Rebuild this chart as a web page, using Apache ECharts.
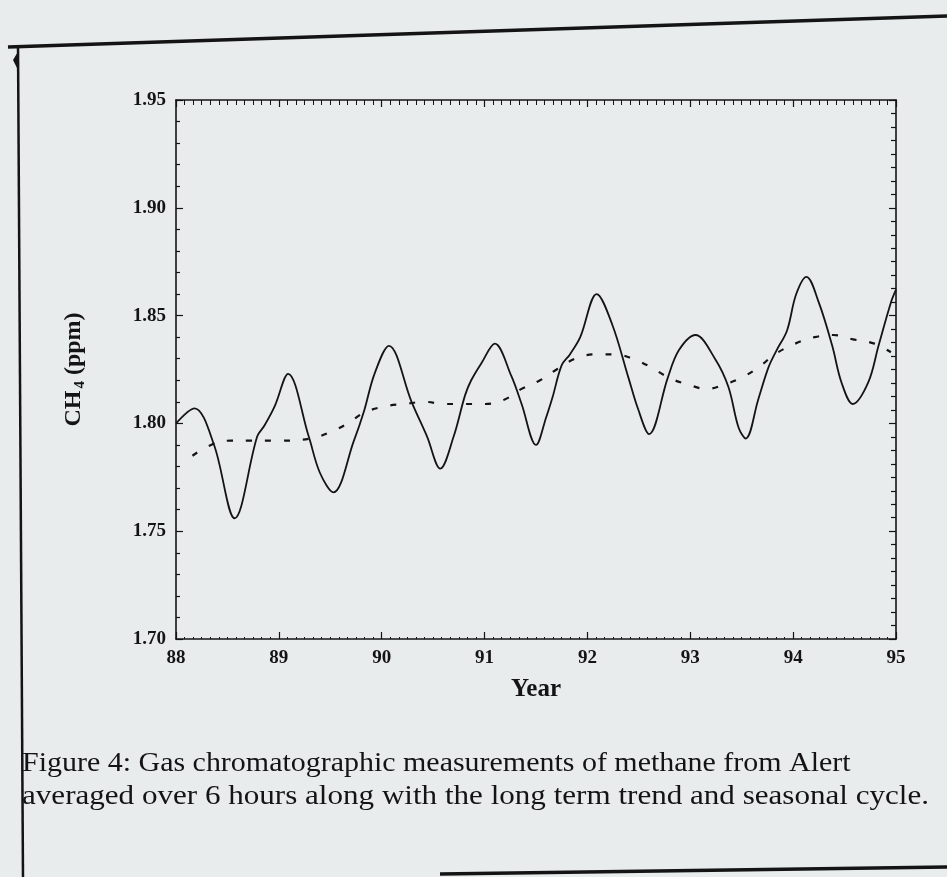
<!DOCTYPE html>
<html>
<head>
<meta charset="utf-8">
<script src="https://cdn.jsdelivr.net/npm/echarts@6/dist/echarts.min.js"></script>
<style>
html,body{margin:0;padding:0;background:#e8ecec;}
#c{width:947px;height:877px;}
</style>
</head>
<body>
<div id="c"></div>
<script>
// Tick labels
const xTicks = [88, 89, 90, 91, 92, 93, 94, 95];
const yTicks = [1.70, 1.75, 1.80, 1.85, 1.90, 1.95];

// Measured CH4 (solid line): year, ppm
const measYears = [88.00, 88.18, 88.37, 88.57, 88.79, 88.86, 88.96, 89.09, 89.29, 89.40, 89.53, 89.73, 89.83, 89.93, 90.07, 90.29, 90.44, 90.57, 90.70, 90.81, 90.87, 90.97, 91.10, 91.26, 91.36, 91.50, 91.60, 91.66, 91.75, 91.83, 91.93, 92.09, 92.24, 92.40, 92.49, 92.60, 92.78, 92.89, 93.05, 93.24, 93.37, 93.47, 93.54, 93.66, 93.76, 93.84, 93.94, 94.03, 94.13, 94.25, 94.38, 94.47, 94.58, 94.73, 94.83, 94.95, 95.00];
const measPpm = [1.800, 1.807, 1.790, 1.756, 1.794, 1.799, 1.808, 1.823, 1.794, 1.777, 1.768, 1.792, 1.806, 1.823, 1.836, 1.810, 1.794, 1.779, 1.794, 1.813, 1.820, 1.828, 1.837, 1.822, 1.809, 1.790, 1.803, 1.812, 1.827, 1.832, 1.840, 1.860, 1.846, 1.821, 1.807, 1.795, 1.821, 1.834, 1.841, 1.830, 1.817, 1.798, 1.793, 1.811, 1.826, 1.834, 1.843, 1.860, 1.868, 1.856, 1.836, 1.819, 1.809, 1.819, 1.836, 1.856, 1.862];

// Long-term trend (dashed line): year, ppm
const trendYears = [88.16, 88.34, 88.53, 88.72, 89.00, 89.31, 89.50, 89.67, 89.83, 90.04, 90.22, 90.42, 90.61, 90.81, 91.00, 91.19, 91.36, 91.54, 91.70, 91.88, 92.07, 92.27, 92.44, 92.62, 92.80, 92.98, 93.16, 93.33, 93.53, 93.69, 93.82, 94.02, 94.21, 94.39, 94.58, 94.79, 94.95];
const trendPpm = [1.785, 1.790, 1.792, 1.792, 1.792, 1.793, 1.796, 1.800, 1.805, 1.808, 1.809, 1.810, 1.809, 1.809, 1.809, 1.811, 1.816, 1.820, 1.825, 1.830, 1.832, 1.832, 1.830, 1.826, 1.821, 1.818, 1.816, 1.818, 1.822, 1.827, 1.832, 1.837, 1.840, 1.841, 1.839, 1.837, 1.833];

const captionLines = [
  'Figure 4: Gas chromatographic measurements of methane from Alert',
  'averaged over 6 hours along with the long term trend and seasonal cycle.'
];

const ink = '#141414';
const serif = '"Liberation Serif", "DejaVu Serif", serif';

const chart = echarts.init(document.getElementById('c'), null, {renderer: 'canvas'});

const axisCommon = {
  type: 'value',
  splitLine: {show: false},
  axisLine: {show: true, onZero: false, lineStyle: {color: ink, width: 1.6}},
  axisTick: {show: true, inside: true, length: 7, lineStyle: {color: ink, width: 1.2}},
  minorTick: {show: true, length: 4, lineStyle: {color: ink, width: 1}}
};

chart.setOption({
  backgroundColor: '#e8ecec',
  animation: false,
  grid: {left: 176, top: 100, width: 720, height: 539, containLabel: false},
  xAxis: [
    Object.assign({}, axisCommon, {
      position: 'bottom',
      min: xTicks[0], max: xTicks[xTicks.length - 1], interval: 1,
      minorTick: {show: true, splitNumber: 12, length: 2, lineStyle: {color: ink, width: 1}},
      axisLabel: {show: true, margin: 10, color: ink, fontFamily: serif, fontWeight: 'bold', fontSize: 19,
        formatter: v => String(v)},
      name: 'Year', nameLocation: 'middle', nameGap: 38,
      nameTextStyle: {color: ink, fontFamily: serif, fontWeight: 'bold', fontSize: 25}
    }),
    Object.assign({}, axisCommon, {
      position: 'top',
      min: xTicks[0], max: xTicks[xTicks.length - 1], interval: 1,
      minorTick: {show: true, splitNumber: 12, length: 5, lineStyle: {color: ink, width: 1}},
      axisLabel: {show: false}
    })
  ],
  yAxis: [
    Object.assign({}, axisCommon, {
      position: 'left',
      min: yTicks[0], max: yTicks[yTicks.length - 1], interval: 0.05,
      minorTick: {show: true, splitNumber: 5, length: 4, lineStyle: {color: ink, width: 1.2}},
      axisLabel: {show: true, margin: 10, color: ink, fontFamily: serif, fontWeight: 'bold', fontSize: 19,
        formatter: v => v.toFixed(2)},
      name: 'CH{s|4} (ppm)', nameLocation: 'middle', nameGap: 88, nameRotate: 90,
      nameTextStyle: {color: ink, fontFamily: serif, fontWeight: 'bold', fontSize: 24, lineHeight: 28,
        rich: {s: {fontFamily: serif, fontWeight: 'bold', fontSize: 15, verticalAlign: 'bottom', lineHeight: 28, padding: [16, 0, 0, 2]}}}
    }),
    Object.assign({}, axisCommon, {
      position: 'right',
      min: yTicks[0], max: yTicks[yTicks.length - 1], interval: 0.05,
      minorTick: {show: true, splitNumber: 8, length: 5, lineStyle: {color: ink, width: 1.2}},
      axisLabel: {show: false}
    })
  ],
  series: [
    {
      name: 'measured', type: 'line', xAxisIndex: 0, yAxisIndex: 0,
      data: measYears.map((x, i) => [x, measPpm[i]]),
      smooth: 0.35, showSymbol: false, symbol: 'none',
      lineStyle: {color: ink, width: 1.8}
    },
    {
      name: 'trend', type: 'line', xAxisIndex: 0, yAxisIndex: 0,
      data: trendYears.map((x, i) => [x, trendPpm[i]]),
      smooth: 0.4, showSymbol: false, symbol: 'none',
      lineStyle: {color: ink, width: 2.2, type: [6, 13]}
    }
  ],
  graphic: [
    {type: 'line', shape: {x1: 8, y1: 47, x2: 947, y2: 16}, style: {stroke: ink, lineWidth: 3.5}, silent: true},
    {type: 'line', shape: {x1: 18, y1: 45, x2: 23, y2: 877}, style: {stroke: ink, lineWidth: 2.5}, silent: true},
    {type: 'polygon', shape: {points: [[19, 50], [13, 60], [19, 72]]}, style: {fill: ink}, silent: true},
    {type: 'line', shape: {x1: 440, y1: 874, x2: 947, y2: 867}, style: {stroke: ink, lineWidth: 3.5}, silent: true},
    {type: 'text', x: 22, y: 750, scaleX: 1.07, silent: true,
      style: {text: captionLines[0], fill: ink, font: '28px ' + serif}},
    {type: 'text', x: 22, y: 783, scaleX: 1.11, silent: true,
      style: {text: captionLines[1], fill: ink, font: '28px ' + serif}}
  ]
});
</script>
</body>
</html>
